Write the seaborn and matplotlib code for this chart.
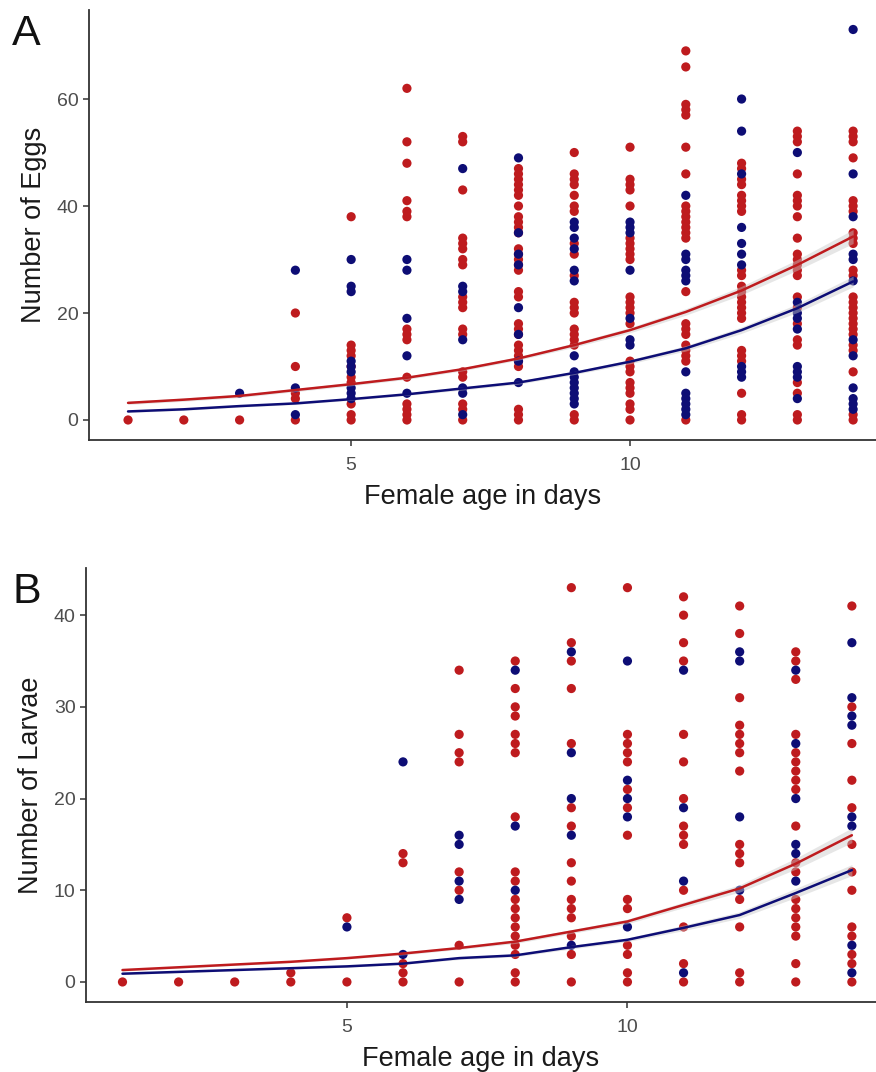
import numpy as np
import pandas as pd
import matplotlib
matplotlib.use("Agg")
import matplotlib.pyplot as plt
import seaborn as sns

# ---- data (one list per day, days 1..14) ----
days = list(range(1, 15))

eggs_red = [
    [0], [0], [0],
    [20, 10, 5, 4, 0],
    [38, 14, 13, 12, 10, 8, 7, 3, 1, 0],
    [62, 52, 48, 41, 39, 38, 17, 16, 15, 8, 3, 2, 1, 0],
    [53, 52, 43, 34, 33, 32, 30, 29, 23, 22, 21, 17, 16, 9, 8, 3, 2, 0],
    [47, 46, 45, 44, 43, 42, 40, 38, 37, 36, 35, 32, 31, 30, 29, 28, 24, 23, 18, 17, 16, 14, 13, 12, 11, 10, 2, 1, 0],
    [50, 46, 45, 44, 42, 40, 39, 33, 31, 27, 22, 21, 20, 17, 16, 15, 14, 1, 0],
    [51, 45, 44, 43, 40, 34, 33, 32, 31, 30, 23, 22, 21, 20, 18, 11, 10, 9, 7, 6, 5, 3, 2, 0],
    [69, 66, 59, 58, 57, 51, 46, 40, 39, 38, 37, 36, 35, 34, 24, 18, 17, 16, 14, 13, 12, 11, 0],
    [48, 47, 45, 44, 42, 41, 40, 39, 28, 27, 25, 24, 23, 22, 21, 20, 19, 13, 12, 11, 5, 1, 0],
    [54, 53, 52, 46, 42, 41, 40, 38, 34, 31, 30, 29, 28, 27, 23, 21, 18, 15, 14, 7, 5, 1, 0],
    [54, 53, 52, 49, 41, 40, 39, 35, 34, 33, 28, 27, 23, 22, 21, 20, 19, 18, 17, 16, 14, 13, 9, 1, 0],
]
eggs_blue = [
    [], [], [5],
    [28, 6, 1],
    [30, 25, 24, 11, 10, 9, 6, 5, 4],
    [30, 28, 19, 12, 5],
    [47, 25, 24, 15, 6, 5, 1],
    [49, 35, 31, 29, 21, 16, 11, 7],
    [37, 36, 34, 32, 28, 26, 12, 9, 8, 7, 6, 5, 4, 3],
    [37, 36, 35, 28, 19, 15, 14],
    [42, 31, 30, 28, 27, 26, 9, 5, 4, 3, 2, 1],
    [60, 54, 46, 36, 33, 31, 29, 10, 9, 8],
    [50, 22, 20, 19, 17, 10, 9, 8, 4],
    [73, 46, 38, 31, 30, 26, 15, 12, 6, 4, 3, 2],
]
larvae_red = [
    [0], [0], [0],
    [1, 0],
    [7, 0],
    [14, 13, 2, 1, 0],
    [34, 27, 25, 24, 12, 10, 4, 0],
    [35, 32, 30, 29, 27, 26, 25, 18, 12, 11, 9, 8, 7, 6, 5, 4, 3, 1, 0],
    [43, 37, 35, 32, 26, 19, 17, 13, 11, 9, 8, 7, 5, 3, 0],
    [43, 27, 26, 25, 24, 21, 19, 16, 9, 8, 4, 3, 1, 0],
    [42, 40, 37, 35, 27, 24, 20, 17, 16, 15, 10, 6, 2, 0],
    [41, 38, 31, 28, 27, 26, 25, 23, 15, 14, 13, 9, 6, 1, 0],
    [36, 35, 33, 27, 25, 24, 23, 22, 21, 17, 13, 12, 9, 8, 7, 6, 5, 2, 0],
    [41, 30, 26, 22, 19, 15, 12, 10, 6, 5, 3, 2, 0],
]
larvae_blue = [
    [], [], [], [],
    [6],
    [24, 3],
    [16, 15, 11, 9],
    [34, 17, 10],
    [36, 25, 20, 16, 4],
    [35, 22, 20, 18, 6],
    [34, 19, 11, 1],
    [36, 35, 18, 10],
    [34, 26, 20, 15, 14, 11],
    [37, 31, 29, 28, 18, 17, 4, 1],
]

# fitted curves (per day) and their band half-widths
eggs_fit_red = [3.2, 3.8, 4.5, 5.6, 6.7, 7.9, 9.5, 11.5, 14.0, 16.8, 20.2, 24.2, 29.0, 34.3]
eggs_fit_blue = [1.6, 2.0, 2.6, 3.1, 3.9, 4.8, 5.9, 7.0, 8.8, 10.9, 13.4, 16.8, 20.9, 25.9]
eggs_ci_red = [0.3, 0.3, 0.3, 0.3, 0.3, 0.3, 0.3, 0.3, 0.4, 0.5, 0.6, 0.8, 1.0, 1.3]
eggs_ci_blue = [0.2, 0.2, 0.2, 0.2, 0.2, 0.2, 0.3, 0.3, 0.3, 0.4, 0.5, 0.6, 0.8, 1.0]

larvae_fit_red = [1.3, 1.6, 1.9, 2.2, 2.6, 3.1, 3.7, 4.4, 5.5, 6.6, 8.4, 10.2, 12.9, 16.0]
larvae_fit_blue = [0.9, 1.1, 1.3, 1.5, 1.7, 2.0, 2.6, 2.9, 3.8, 4.6, 5.9, 7.3, 9.7, 12.2]
larvae_ci_red = [0.1, 0.1, 0.1, 0.1, 0.1, 0.15, 0.15, 0.2, 0.2, 0.25, 0.3, 0.4, 0.6, 0.8]
larvae_ci_blue = [0.1, 0.1, 0.1, 0.1, 0.1, 0.1, 0.15, 0.15, 0.2, 0.2, 0.3, 0.35, 0.5, 0.6]

RED = "#BE1B1E"
BLUE = "#0D0D75"


def long_points(red, blue):
    rows = []
    for grp, cols in (("red", red), ("blue", blue)):
        for d, vals in zip(days, cols):
            for v in vals:
                rows.append((d, v, grp))
    return pd.DataFrame(rows, columns=["day", "count", "grp"])


def long_fit(fr, fb, cr, cb):
    return pd.DataFrame({
        "day": days * 2,
        "fit": fr + fb,
        "ci": cr + cb,
        "grp": ["red"] * 14 + ["blue"] * 14,
    })


sns.set_theme(style="ticks")
plt.rcParams["font.family"] = ["Liberation Sans", "DejaVu Sans"]

fig = plt.figure(figsize=(8.76, 10.72), dpi=100)
axA = fig.add_axes([0.1016, 0.590, 0.8984, 0.4007])
axB = fig.add_axes([0.0982, 0.0656, 0.9018, 0.4046])

panels = [
    (axA, eggs_red, eggs_blue, eggs_fit_red, eggs_fit_blue, eggs_ci_red, eggs_ci_blue,
     "Number of Eggs", (0.30, 14.41), (-3.65, 76.65), [0, 20, 40, 60], "A", 1 - 45 / 1072),
    (axB, larvae_red, larvae_blue, larvae_fit_red, larvae_fit_blue, larvae_ci_red, larvae_ci_blue,
     "Number of Larvae", (0.35, 14.43), (-2.15, 45.15), [0, 10, 20, 30, 40], "B", 1 - 603 / 1072),
]

for ax, pr, pb, fr, fb, cr, cb, ylab, xl, yl, yt, letter, ly in panels:
    pts = long_points(pr, pb)
    fit = long_fit(fr, fb, cr, cb)
    sns.scatterplot(data=pts, x="day", y="count", hue="grp",
                    palette={"red": RED, "blue": BLUE}, hue_order=["red", "blue"],
                    s=44, linewidth=0, legend=False, ax=ax, zorder=2)
    for grp, col in (("red", RED), ("blue", BLUE)):
        sub = fit[fit["grp"] == grp]
        ax.fill_between(sub["day"], sub["fit"] - sub["ci"], sub["fit"] + sub["ci"],
                        color="#C8C8C8", alpha=0.45, linewidth=0, zorder=3)
    sns.lineplot(data=fit, x="day", y="fit", hue="grp",
                 palette={"red": RED, "blue": BLUE}, linewidth=1.8,
                 legend=False, ax=ax, zorder=4)
    ax.set_xlim(*xl)
    ax.set_ylim(*yl)
    ax.set_xticks([5, 10])
    ax.set_yticks(yt)
    ax.set_xlabel("Female age in days", fontsize=19.5, color="#1A1A1A", labelpad=7)
    ax.set_ylabel(ylab, fontsize=19.5, color="#1A1A1A", labelpad=7)
    ax.tick_params(axis="both", labelsize=14, labelcolor="#4D4D4D", color="#333333",
                   length=4.5, width=1.1)
    ax.tick_params(axis="x", pad=8)
    ax.tick_params(axis="y", pad=3)
    for side in ("top", "right"):
        ax.spines[side].set_visible(False)
    for side in ("left", "bottom"):
        ax.spines[side].set_color("#333333")
        ax.spines[side].set_linewidth(1.3)
    ax.set_facecolor("white")
    fig.text(12 / 876, ly, letter, fontsize=31, color="#111111", va="baseline", ha="left")

fig.savefig("out.png", dpi=100, facecolor="white")
